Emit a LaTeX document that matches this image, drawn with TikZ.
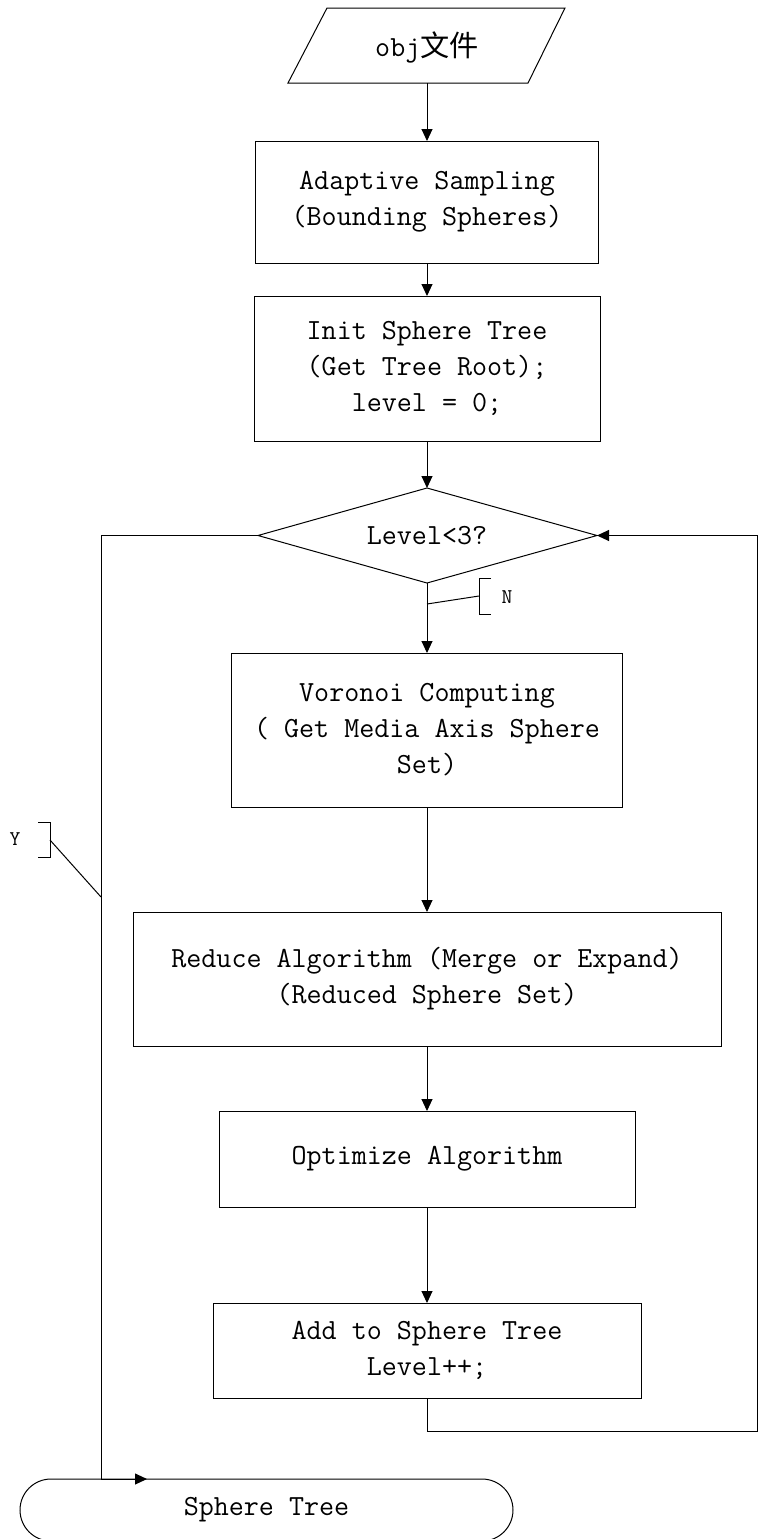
\documentclass[tikz,border=0pt]{standalone}
\usepackage{fontspec}
\newfontfamily\cjk{Noto Sans CJK SC}
\usetikzlibrary{shapes.geometric,shapes.misc,arrows.meta}
\begin{document}
\begin{tikzpicture}[x=1pt,y=-1pt,
  every node/.style={font=\fontsize{29.2}{36}\selectfont\ttfamily, inner sep=0pt, outer sep=0pt},
  box/.style={draw, line width=1pt, rectangle, align=center},
  conn/.style={line width=1pt},
  arr/.style={conn,-{Triangle[length=12pt,width=11pt]}},
  lbl/.style={font=\fontsize{21}{24}\selectfont\ttfamily}]
\useasboundingbox (0,0) rectangle (758,1539);
% input parallelogram
\draw[conn] (327,8) -- (565,8) -- (528,83) -- (288,83) -- cycle;
\node (in) at (427,47) {obj{\cjk 文件}};
\coordinate (inb) at (427,83);
% boxes
\node[box, minimum width=343pt, minimum height=122pt] (b1) at (427,202) {Adaptive Sampling\\(Bounding Spheres)};
\node[box, minimum width=346pt, minimum height=145pt] (b2) at (427,368.5) {Init Sphere Tree\\(Get Tree Root);\\level = 0;};
% decision diamond
\coordinate (dect) at (427,488);
\coordinate (decr) at (597,535.5);
\coordinate (decb) at (427,583);
\coordinate (decl) at (258,535.5);
\draw[conn] (dect) -- (decr) -- (decb) -- (decl) -- cycle;
\node (dec) at (427,535.5) {Level<3?};
\node[box, minimum width=391pt, minimum height=154pt] (b3) at (427,730) {Voronoi Computing\\( Get Media Axis Sphere\\Set)};
\node[box, minimum width=588pt, minimum height=134pt] (b4) at (427,979) {Reduce Algorithm (Merge or Expand)\\(Reduced Sphere Set)};
\node[box, minimum width=416pt, minimum height=96pt] (b5) at (427,1159) {Optimize Algorithm};
\node[box, minimum width=428pt, minimum height=95pt] (b6) at (427,1350.5) {Add to Sphere Tree\\Level++;};
\node[draw, line width=1pt, rounded rectangle, minimum width=493pt, minimum height=62pt] (end) at (266.5,1510) {Sphere Tree};
% main flow
\draw[arr] (inb) -- (b1.north);
\draw[arr] (b1.south) -- (b2.north);
\draw[arr] (b2.south) -- (dect);
\draw[arr] (decb) -- (b3.north);
\draw[arr] (b3.south) -- (b4.north);
\draw[arr] (b4.south) -- (b5.north);
\draw[arr] (b5.south) -- (b6.north);
% loop back
\coordinate (rc) at (757.5,1431);
\draw[arr] (b6.south) |- (rc) |- (decr);
% yes branch
\coordinate (lc) at (101,1479);
\coordinate (tarr) at (147,1479);
\draw[arr] (decl) -| (lc) -- (tarr);
% N label
\coordinate (npt) at (427,604);
\coordinate (nlab) at (479,596);
\draw[conn] (npt) -- (nlab);
\draw[conn] (491,578) -- (479,578) -- (479,614) -- (491,614);
\node[lbl] (N) at (507,597) {N};
% Y label
\coordinate (ypt) at (101,897);
\coordinate (ylab) at (50,840);
\draw[conn] (ypt) -- (ylab);
\draw[conn] (38,822) -- (50,822) -- (50,857) -- (38,857);
\node[lbl] (Y) at (15,839) {Y};
\end{tikzpicture}
\end{document}
